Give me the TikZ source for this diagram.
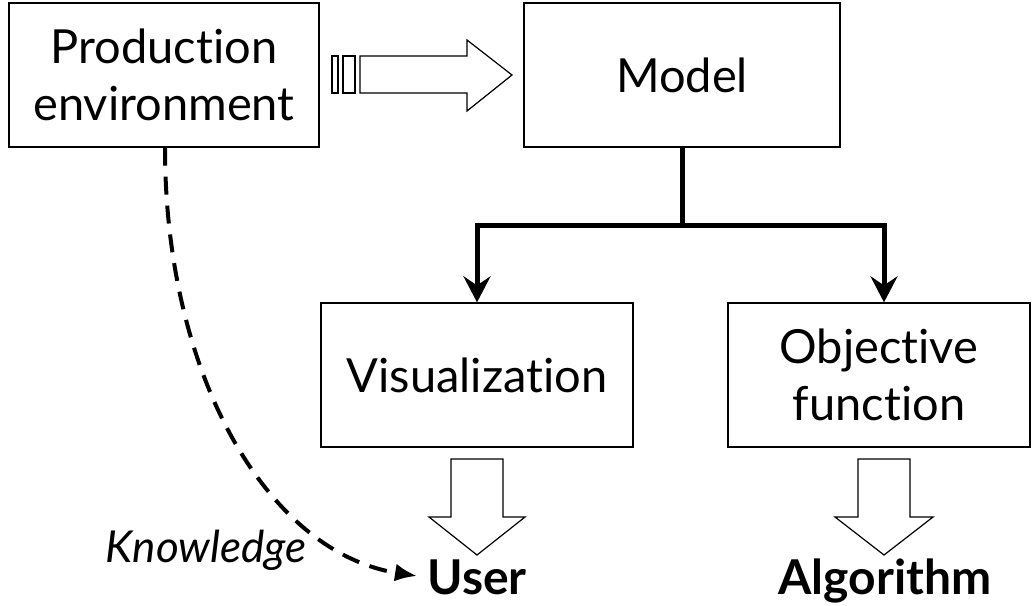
\documentclass[tikz,border=0pt]{standalone}
\usepackage{fontspec}
\setmainfont{Lato}[Ligatures={NoCommon,NoContextual}]
\usetikzlibrary{arrows.meta,positioning}

\tikzset{
  box/.style={draw, line width=1.3pt, rectangle, align=center, inner sep=0pt,
    font=\fontsize{47}{57}\selectfont},
  branch/.style={line width=5pt, -{Stealth[length=26pt,width=27pt,inset=9pt]}},
  knowflow/.style={line width=4pt, dash pattern=on 18pt off 11pt,
    -{Latex[length=22pt,width=18pt]}},
  hollow/.style={draw, line width=1.2pt, fill=white, line join=miter},
  outlabel/.style={inner sep=0pt, font=\fontsize{48}{57}\selectfont\bfseries},
}

\begin{document}
\begin{tikzpicture}[x=1pt, y=-1pt]
  \useasboundingbox (0,0) rectangle (1032,605);

  % boxes
  \node[box, minimum width=310pt, minimum height=144pt] (prod) at (164,75) {Production\\environment};
  \node[box, minimum width=316pt, minimum height=144pt] (model) at (682,75) {Model};
  \node[box, minimum width=312pt, minimum height=144pt] (vis) at (477,375) {Visualization};
  \node[box, minimum width=302pt, minimum height=144pt] (obj) at (879,375) {Objective\\function};

  % outputs
  \node[outlabel, anchor=base] (user) at (477,594) {User};
  \node[outlabel, anchor=base] (algo) at (885,594) {Algorithm};

  % branching connectors from the model
  \coordinate (split) at (682,225);
  \draw[line width=5pt] (model.south) -- (split);
  \draw[branch] (split) -| (vis.north);
  \draw[branch] (split) -| ([xshift=5pt]obj.north);

  % striped block arrow from production environment to model
  \path[hollow] (332,56) rectangle (338,93);
  \path[hollow] (343,56) rectangle (355,93);
  \path[hollow] (360,56) -- (467,56) -- (467,40) -- (512,75) -- (467,111)
        -- (467,93) -- (360,93) -- cycle;

  % block arrows down to user and algorithm
  \path[hollow] (451,459) -- (503,459) -- (503,517) -- (525,517) -- (477,555)
        -- (429,517) -- (451,517) -- cycle;
  \path[hollow] (858,459) -- (910,459) -- (910,517) -- (933,517) -- (884,555)
        -- (835,517) -- (858,517) -- cycle;

  % knowledge flow
  \coordinate (kend) at (417,576);
  \draw[knowflow] ([xshift=1pt]prod.south) .. controls (165,380) and (270,553) .. (kend);
  \node[inner sep=0pt, font=\fontsize{44}{50}\selectfont\itshape, anchor=base] (know) at (206,562) {Knowledge};
\end{tikzpicture}
\end{document}
